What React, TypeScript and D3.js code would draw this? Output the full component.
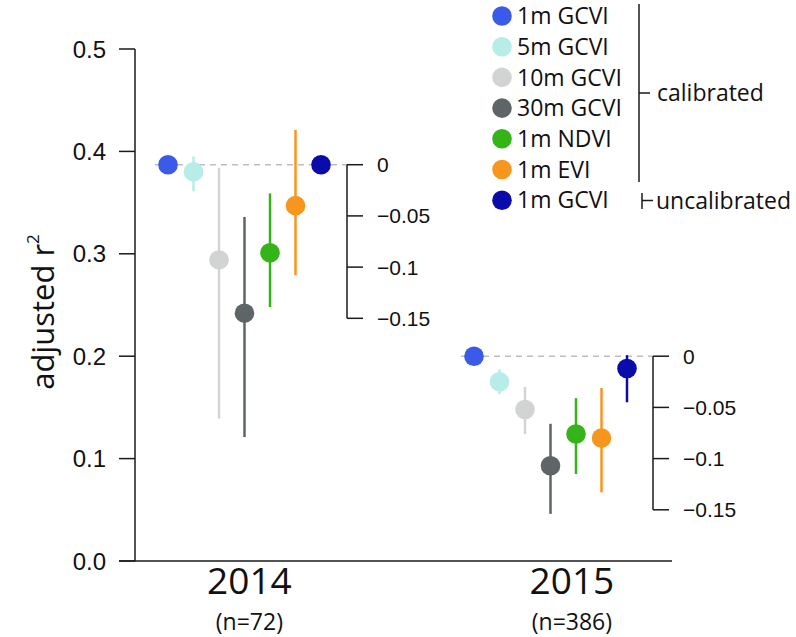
import React from "react";
import * as d3 from "d3";

const years = ["2014", "2015"];
const sampleSizes = ["(n=72)", "(n=386)"];
const seriesNames = ["1m GCVI", "5m GCVI", "10m GCVI", "30m GCVI", "1m NDVI", "1m EVI", "1m GCVI"];
const seriesColors = ["#3a5bea", "#b6ede8", "#d2d4d4", "#5e6566", "#35b41a", "#f7961e", "#0b0bab"];

// values per series: [2014, 2015]
const meanValues = [
  [0.387, 0.2],
  [0.38, 0.175],
  [0.294, 0.148],
  [0.242, 0.093],
  [0.301, 0.124],
  [0.347, 0.12],
  [0.387, 0.188],
];
const lowValues = [
  [null, null],
  [0.361, 0.163],
  [0.139, 0.124],
  [0.121, 0.046],
  [0.248, 0.085],
  [0.279, 0.067],
  [null, 0.155],
];
const highValues = [
  [null, null],
  [0.395, 0.187],
  [0.384, 0.17],
  [0.336, 0.134],
  [0.359, 0.159],
  [0.421, 0.169],
  [null, 0.201],
];

const yTicks = [0, 0.1, 0.2, 0.3, 0.4, 0.5];
const diffTicks = [0, -0.05, -0.1, -0.15];

const W = 796;
const H = 637;

export default function App() {
  const y = d3.scaleLinear().domain([0, 0.5]).range([561, 49]);
  const x = d3.scaleLinear().domain([1, 2]).range([244.5, 550.5]);
  const step = 1 / 12;
  const px = (g: number, j: number) => x(g + 1 + (j - 3) * step);

  const sans = "'Open Sans', sans-serif";
  const helv = "'Liberation Sans', Arial, sans-serif";
  const axisColor = "#1a1a1a";

  const labelX = [x(1.016), x(2.07)];
  const fmtDiff = (v: number) => (v === 0 ? "0" : "\u2212" + d3.format("")(Math.abs(v)));

  return (
    <div style={{ position: "absolute", left: 0, top: 0 }}>
      <svg width={W} height={H} style={{ display: "block", background: "#fff" }}>
        {/* y axis */}
        <line x1={135} x2={135} y1={y(0.5)} y2={y(0)} stroke={axisColor} strokeWidth={1.5} />
        {yTicks.map((t) => (
          <g key={t}>
            <line x1={119} x2={135} y1={y(t)} y2={y(t)} stroke={axisColor} strokeWidth={1.5} />
            <text x={106} y={y(t)} dy="0.36em" textAnchor="end" fontFamily={helv} fontSize={24} fill="#111">
              {d3.format(".1f")(t)}
            </text>
          </g>
        ))}
        {/* x axis line */}
        <line x1={119} x2={x(2.397)} y1={y(0)} y2={y(0)} stroke={axisColor} strokeWidth={1.5} />
        <text
          transform={`translate(${43},${312}) rotate(-90)`}
          textAnchor="middle"
          dy="0.35em"
          fontFamily={sans}
          fontSize={31}
          fill="#111"
        >
          adjusted r<tspan fontSize={17} dy="-0.85em">2</tspan>
        </text>

        {years.map((yr, g) => {
          const base = meanValues[0][g];
          const axX = px(g, 6) + 26;
          return (
            <g key={yr}>
              <line
                x1={px(g, 0) - 13}
                x2={axX}
                y1={y(base)}
                y2={y(base)}
                stroke="#bdbdbd"
                strokeWidth={1.5}
                strokeDasharray="6,5"
              />
              <line x1={axX} x2={axX} y1={y(base)} y2={y(base - 0.15)} stroke={axisColor} strokeWidth={1.5} />
              {diffTicks.map((d) => (
                <g key={d}>
                  <line x1={axX} x2={axX + 16} y1={y(base + d)} y2={y(base + d)} stroke={axisColor} strokeWidth={1.5} />
                  <text x={axX + 30} y={y(base + d)} dy="0.36em" fontFamily={helv} fontSize={21} fill="#111">
                    {fmtDiff(d)}
                  </text>
                </g>
              ))}
              {seriesNames.map((s, j) => {
                const lo = lowValues[j][g];
                const hi = highValues[j][g];
                return (
                  <g key={j}>
                    {lo !== null && hi !== null && (
                      <line x1={px(g, j)} x2={px(g, j)} y1={y(hi)} y2={y(lo)} stroke={seriesColors[j]} strokeWidth={2.5} />
                    )}
                    <circle cx={px(g, j)} cy={y(meanValues[j][g])} r={9.8} fill={seriesColors[j]} />
                  </g>
                );
              })}
              <text x={labelX[g]} y={594} textAnchor="middle" fontFamily={sans} fontSize={37} fill="#111">
                {yr}
              </text>
              <text x={labelX[g]} y={630} textAnchor="middle" fontFamily={sans} fontSize={23} fill="#111">
                {sampleSizes[g]}
              </text>
            </g>
          );
        })}

        {/* legend */}
        {seriesNames.map((s, j) => {
          const ly = 16 + j * 30.7;
          return (
            <g key={j}>
              <circle cx={502} cy={ly} r={9.8} fill={seriesColors[j]} />
              <text x={517} y={ly} dy="0.36em" fontFamily={sans} fontSize={23} fill="#111">
                {s}
              </text>
            </g>
          );
        })}
        <line x1={639} x2={639} y1={4} y2={182} stroke={axisColor} strokeWidth={1.5} />
        <line x1={639} x2={650} y1={93} y2={93} stroke={axisColor} strokeWidth={1.5} />
        <text x={657} y={93} dy="0.36em" fontFamily={sans} fontSize={23} fill="#111">
          calibrated
        </text>
        <line x1={642} x2={642} y1={193} y2={209} stroke={axisColor} strokeWidth={1.5} />
        <line x1={642} x2={653} y1={200.5} y2={200.5} stroke={axisColor} strokeWidth={1.5} />
        <text x={656} y={200.5} dy="0.36em" fontFamily={sans} fontSize={23} fill="#111">
          uncalibrated
        </text>
      </svg>
    </div>
  );
}
